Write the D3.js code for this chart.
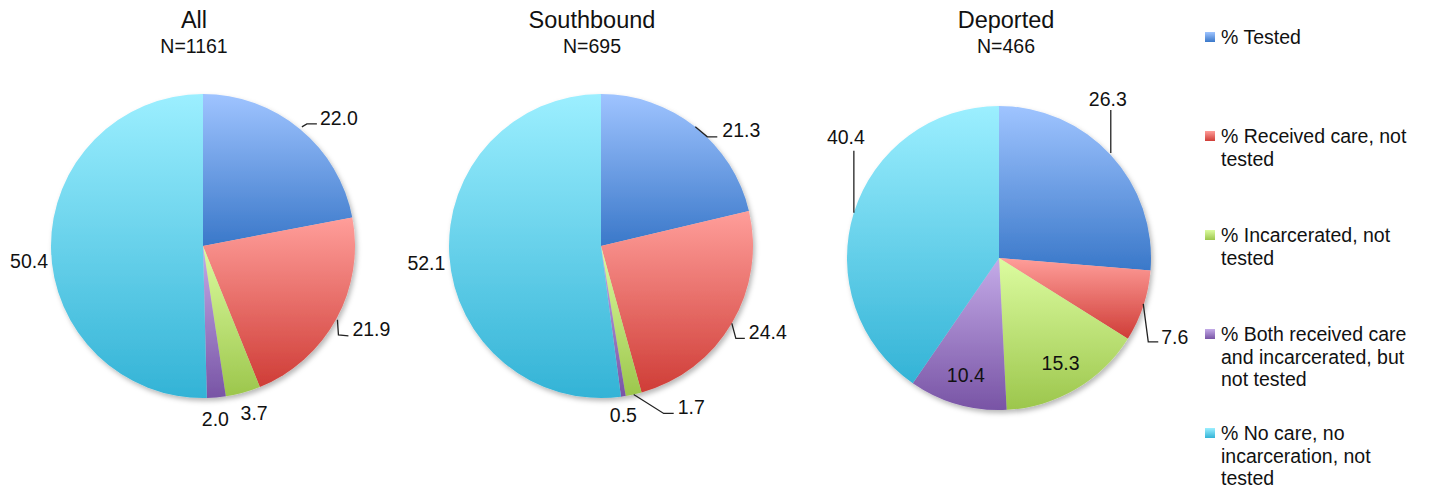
<!DOCTYPE html>
<html>
<head>
<meta charset="utf-8">
<title>HIV testing by group</title>
<script src="https://cdn.jsdelivr.net/npm/d3@7"></script>
<style>
  body { margin: 0; background: #fff; }
  svg { display: block; font-family: "Liberation Sans", Arial, sans-serif; fill: #111; }
</style>
</head>
<body>
<svg id="chart" width="1429" height="488"></svg>
<script>
// data
const categories = ["% Tested", "% Received care, not tested", "% Incarcerated, not tested",
  "% Both received care and incarcerated, but not tested", "% No care, no incarceration, not tested"];
const legendLines = [["% Tested"], ["% Received care, not", "tested"], ["% Incarcerated, not", "tested"],
  ["% Both received care", "and incarcerated, but", "not tested"], ["% No care, no", "incarceration, not", "tested"]];
const groups = ["All", "Southbound", "Deported"];
const groupN = ["N=1161", "N=695", "N=466"];
const allValues = [22.0, 21.9, 3.7, 2.0, 50.4];
const southboundValues = [21.3, 24.4, 1.7, 0.5, 52.1];
const deportedValues = [26.3, 7.6, 15.3, 10.4, 40.4];
const seriesValues = [allValues, southboundValues, deportedValues];

// colours (top, bottom of each gradient)
const colors = [["#9fc4ff", "#3a78c9"], ["#ff9e9a", "#cf3d37"], ["#dcfca0", "#9cc64c"],
  ["#c4abe8", "#7854a5"], ["#9cefff", "#33b3d6"]];

// layout
const R = 152;
const centers = [[203, 246], [601, 246], [999, 258]];
const titleX = [194, 592, 1006];
// label placement relative to the slice's outer edge point (or inside)
const labelLayout = [
  [ {dx: 20, dy: -11, a: "start", lead: [[2,-2],[7,-5],[17,-5]]},
    {dx: 16, dy: 10, a: "start", lead: [[1,1],[2,16],[12,17]]},
    {dx: 11, dy: 20, a: "middle"},
    {dx: -1, dy: 22, a: "middle"},
    {dx: -3, dy: 13, a: "end"} ],
  [ {dx: 27, dy: 3, a: "start", lead: [[0,0],[12,10],[22,10]]},
    {dx: 17, dy: 9, a: "start", lead: [[0,0],[4,15],[13,15]]},
    {dx: 44, dy: 13, a: "start", lead: [[0,0],[30,19],[40,19]]},
    {dx: 0, dy: 19, a: "middle"},
    {dx: -4, dy: 7, a: "end"} ],
  [ {dx: -3, dy: -56, a: "middle", lead: [[0,-2],[0,-45]]},
    {dx: 18, dy: 31, a: "start", lead: [[0,-2],[5,36],[15,36]]},
    {inside: true},
    {inside: true},
    {dx: -8, dy: -76, a: "middle", lead: [[0,0],[0,-62]]} ]
];

const svg = d3.select("#chart");
const defs = svg.append("defs");

colors.forEach(function(c, i) {
  const g = defs.append("linearGradient").attr("id", "grad" + i)
    .attr("x1", 0).attr("y1", 0).attr("x2", 0).attr("y2", 1);
  g.append("stop").attr("offset", "0%").attr("stop-color", c[0]);
  g.append("stop").attr("offset", "100%").attr("stop-color", c[1]);
});

const shadow = defs.append("filter").attr("id", "shadow")
  .attr("x", "-10%").attr("y", "-10%").attr("width", "125%").attr("height", "125%");
shadow.append("feDropShadow").attr("dx", 2).attr("dy", 3).attr("stdDeviation", 2.5)
  .attr("flood-color", "#000").attr("flood-opacity", 0.28);

const pie = d3.pie().sort(null).value(function(d) { return d; });
const arc = d3.arc().innerRadius(0).outerRadius(R);

seriesValues.forEach(function(values, p) {
  const cx = centers[p][0], cy = centers[p][1];

  svg.append("text").attr("x", titleX[p]).attr("y", 20).attr("text-anchor", "middle")
    .attr("dominant-baseline", "central").style("font-size", "23.5px").text(groups[p]);
  svg.append("text").attr("x", titleX[p]).attr("y", 46).attr("text-anchor", "middle")
    .attr("dominant-baseline", "central").style("font-size", "19.5px").text(groupN[p]);

  const g = svg.append("g").attr("transform", "translate(" + cx + "," + cy + ")");
  const arcs = pie(values);

  g.append("g").attr("filter", "url(#shadow)")
    .selectAll("path").data(arcs).enter().append("path")
    .attr("d", arc)
    .attr("fill", function(d, i) { return "url(#grad" + i + ")"; });

  arcs.forEach(function(d, i) {
    const L = labelLayout[p][i];
    const mid = (d.startAngle + d.endAngle) / 2;
    const txt = d3.format(".1f")(d.data);
    if (L.inside) {
      const r = R * 0.8;
      g.append("text").attr("x", r * Math.sin(mid)).attr("y", -r * Math.cos(mid))
        .attr("text-anchor", "middle").attr("dominant-baseline", "central")
        .style("font-size", "19.5px").text(txt);
      return;
    }
    const ex = R * Math.sin(mid), ey = -R * Math.cos(mid);
    if (L.lead) {
      g.append("path")
        .attr("d", d3.line()(L.lead.map(function(q) { return [ex + q[0], ey + q[1]]; })))
        .attr("fill", "none").attr("stroke", "#222").attr("stroke-width", 1.3);
    }
    g.append("text").attr("x", ex + L.dx).attr("y", ey + L.dy)
      .attr("text-anchor", L.a).attr("dominant-baseline", "central")
      .style("font-size", "19.5px").text(txt);
  });
});

// legend
const legend = svg.append("g").attr("transform", "translate(1205,37)");
legendLines.forEach(function(lines, i) {
  const item = legend.append("g").attr("transform", "translate(0," + (i * 99) + ")");
  item.append("rect").attr("x", 0).attr("y", -5).attr("width", 10).attr("height", 10)
    .attr("fill", "url(#grad" + i + ")");
  lines.forEach(function(s, j) {
    item.append("text").attr("x", 16).attr("y", j * 22.5).attr("dominant-baseline", "central")
      .style("font-size", "19.5px").text(s);
  });
});
</script>
</body>
</html>
